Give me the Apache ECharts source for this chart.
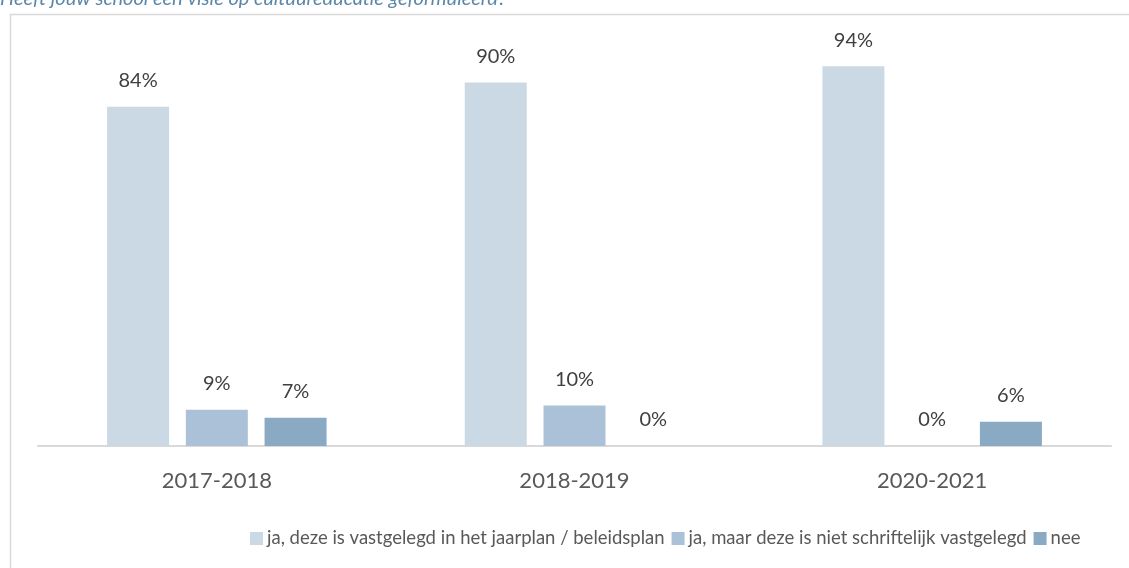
<!DOCTYPE html>
<html>
<head>
<meta charset="utf-8">
<script src="https://cdn.jsdelivr.net/npm/echarts@6/dist/echarts.min.js"></script>
<style>
  html, body { margin: 0; padding: 0; background: #fff; }
  #chart { width: 1129px; height: 568px; }
</style>
</head>
<body>
<div id="chart"></div>
<script>
const years = ['2017-2018', '2018-2019', '2020-2021']
const seriesNames = [
  'ja, deze is vastgelegd in het jaarplan / beleidsplan',
  'ja, maar deze is niet schriftelijk vastgelegd',
  'nee'
]
const vastgelegd = [84, 90, 94]
const nietSchriftelijk = [9, 10, 0]
const nee = [7, 0, 6]
const colors = ['#cbd9e5', '#abc1d7', '#8aaac4']

const chart = echarts.init(document.getElementById('chart'))

const labelStyle = {
  show: true,
  position: 'top',
  distance: 16,
  formatter: '{c}%',
  fontFamily: 'Lato',
  fontSize: 20,
  color: '#404040'
}

const values = [vastgelegd, nietSchriftelijk, nee]

chart.setOption({
  animation: false,
  textStyle: { fontFamily: 'Lato' },
  graphic: [
    {
      type: 'rect',
      left: 8,
      top: 12,
      shape: { width: 1300, height: 700 },
      style: { fill: 'none', stroke: '#d9d9d9', lineWidth: 1.5 }
    },
    {
      type: 'text',
      left: 0,
      top: -11,
      style: {
        text: 'Heeft jouw school een visie op cultuureducatie geformuleerd?',
        font: 'italic 20px Lato',
        fill: '#5b87a8'
      }
    }
  ],
  legend: {
    top: 524,
    left: 245,
    itemWidth: 13,
    itemHeight: 13,
    itemGap: 7,
    icon: 'rect',
    textStyle: { fontFamily: 'Lato', fontSize: 18.5, color: '#595959', padding: [0, 0, 0, -1] },
    data: seriesNames
  },
  grid: { left: 38, right: 18, top: 42, bottom: 122 },
  xAxis: {
    type: 'category',
    data: years,
    axisLine: { lineStyle: { color: '#d9d9d9', width: 2 } },
    axisTick: { show: false },
    axisLabel: { fontFamily: 'Lato', fontSize: 22, color: '#595959', margin: 24 }
  },
  yAxis: {
    type: 'value',
    min: 0,
    max: 100,
    show: false,
    splitLine: { show: false }
  },
  series: seriesNames.map((name, i) => ({
    name: name,
    type: 'bar',
    data: values[i],
    barWidth: 62,
    barGap: '27%',
    itemStyle: { color: colors[i] },
    label: labelStyle
  }))
})
</script>
</body>
</html>
